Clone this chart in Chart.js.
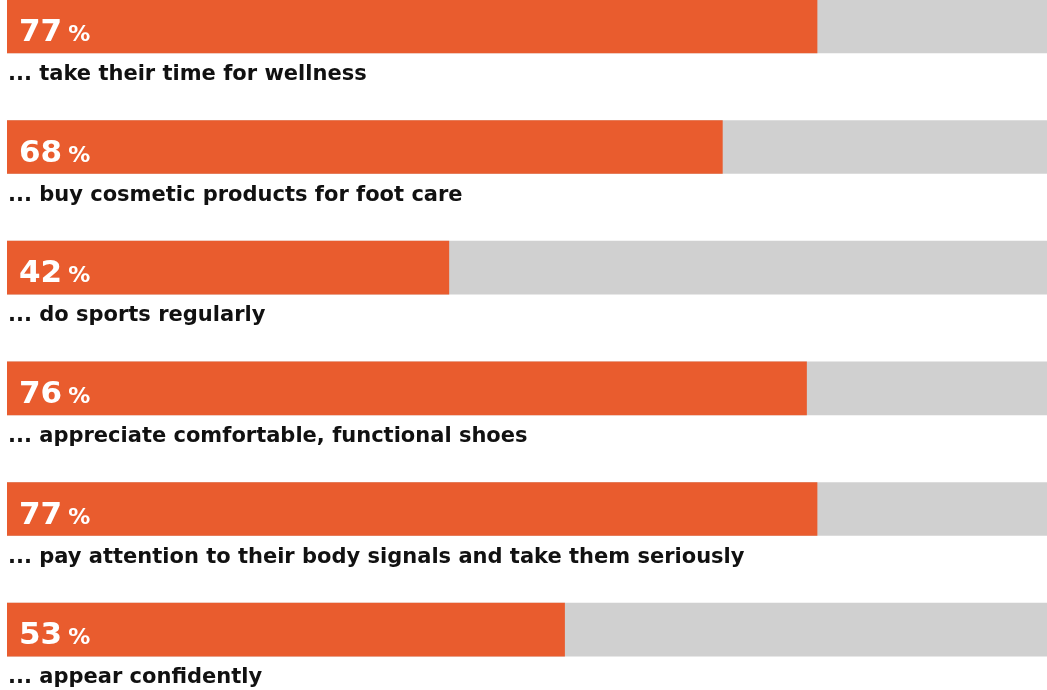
<!DOCTYPE html>
<html>
<head>
<meta charset="utf-8">
<script src="https://cdn.jsdelivr.net/npm/chart.js@4"></script>
<style>
  html, body { margin: 0; padding: 0; background: #fff; overflow: hidden; width: 1047px; height: 690px; }
  #wrap { position: absolute; left: 0; top: -34px; }
</style>
</head>
<body>
<div id="wrap"><canvas id="bars" width="1060" height="724"></canvas></div>
<script>
  // Data
  const labels = [
    '... take their time for wellness',
    '... buy cosmetic products for foot care',
    '... do sports regularly',
    '... appreciate comfortable, functional shoes',
    '... pay attention to their body signals and take them seriously',
    '... appear confidently'
  ];
  const shares = [77, 68, 42, 76, 77, 53];
  const totals = [100, 100, 100, 100, 100, 100];

  const ORANGE = '#e95c2e';
  const GREY = '#d0d0d0';

  // draws the big percentage inside each bar and the caption under it
  const textPlugin = {
    id: 'barText',
    afterDatasetsDraw(chart) {
      const ctx = chart.ctx;
      const meta = chart.getDatasetMeta(0);
      ctx.save();
      ctx.textBaseline = 'alphabetic';
      ctx.textAlign = 'left';
      meta.data.forEach((bar, i) => {
        const top = bar.y - bar.height / 2;
        const bottom = bar.y + bar.height / 2;
        const x0 = chart.chartArea.left;
        // value
        ctx.fillStyle = '#ffffff';
        ctx.font = 'bold 31px "DejaVu Sans"';
        const num = String(shares[i]);
        ctx.fillText(num, x0 + 12, top + 41);
        const w = ctx.measureText(num).width;
        ctx.font = 'bold 22px "DejaVu Sans"';
        ctx.fillText('%', x0 + 12 + w + 6, top + 41);
        // caption
        ctx.fillStyle = '#111111';
        ctx.font = 'bold 21px "DejaVu Sans"';
        ctx.fillText(labels[i], x0 + 1, bottom + 27);
      });
      ctx.restore();
    }
  };

  const ctx = document.getElementById('bars').getContext('2d');
  const chart = new Chart(ctx, {
    type: 'bar',
    data: {
      labels: labels,
      datasets: [
        {
          data: shares,
          backgroundColor: ORANGE,
          barThickness: 53,
          grouped: false,
          order: 0
        },
        {
          data: totals,
          backgroundColor: GREY,
          barThickness: 53,
          grouped: false,
          order: 1
        }
      ]
    },
    options: {
      indexAxis: 'y',
      responsive: false,
      animation: false,
      layout: { padding: { left: 7, right: 1, top: 0, bottom: 0 } },
      plugins: { legend: { display: false }, tooltip: { enabled: false } },
      scales: {
        x: { min: 0, max: 100, display: false },
        y: { display: false }
      }
    },
    plugins: [textPlugin]
  });
</script>
</body>
</html>
